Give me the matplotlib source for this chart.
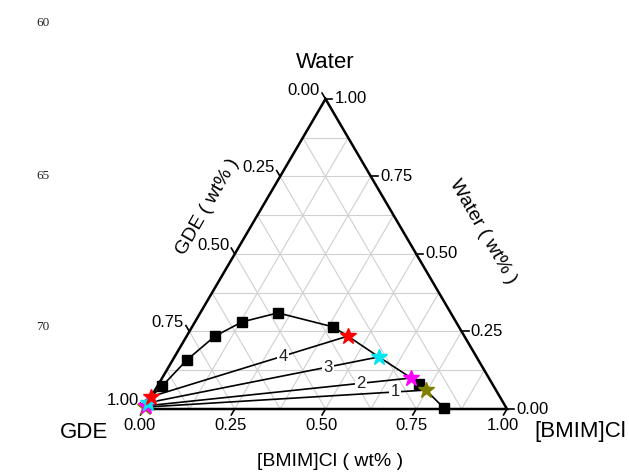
import numpy as np
import matplotlib
matplotlib.use('Agg')
import matplotlib.pyplot as plt

plt.rcParams['font.family'] = ['Liberation Sans', 'DejaVu Sans']

H = np.sqrt(3) / 2

# mass fractions ([BMIM]Cl, water); GDE = 1 - both
curve_cl = [0.000, 0.013, 0.039, 0.078, 0.130, 0.214, 0.388, 0.444, 0.563, 0.686, 0.717, 0.746, 0.825]
curve_w = [0.040, 0.074, 0.158, 0.235, 0.281, 0.310, 0.265, 0.235, 0.168, 0.100, 0.081, 0.061, 0.003]

square_cl = [0.013, 0.039, 0.078, 0.130, 0.214, 0.388, 0.717, 0.825]
square_w = [0.074, 0.158, 0.235, 0.281, 0.310, 0.265, 0.081, 0.003]

tie_labels = ['1', '2', '3', '4']
tie_top_cl = [0.746, 0.686, 0.563, 0.444]
tie_top_w = [0.061, 0.100, 0.168, 0.235]
tie_bot_cl = [0.000, 0.000, 0.000, 0.000]
tie_bot_w = [0.006, 0.010, 0.020, 0.040]
tie_colors = ['#808000', '#ff00ff', '#00e5ee', '#ff0000']
tie_label_pos = [0.89, 0.81, 0.78, 0.67]

tick_values = [0.0, 0.25, 0.5, 0.75, 1.0]
tick_labels = ['0.00', '0.25', '0.50', '0.75', '1.00']
grid_values = np.arange(0.125, 1.0, 0.125)


def tern(cl, w):
    cl = np.asarray(cl, float)
    w = np.asarray(w, float)
    return cl + w / 2, w * H


fig = plt.figure(figsize=(6.29, 4.72), dpi=100)
ax = fig.add_axes([0, 0, 1, 1])
ax.set_xlim(-144 / 363, 485 / 363)
ax.set_ylim(-63 / 358, 409 / 358)
ax.axis('off')

# grid
gc = '#d0d0d0'
for v in grid_values:
    x, y = tern([0, 1 - v], [v, v])
    ax.plot(x, y, color=gc, lw=0.8, zorder=1)
    x, y = tern([v, v], [0, 1 - v])
    ax.plot(x, y, color=gc, lw=0.8, zorder=1)
    x, y = tern([1 - v, 0], [0, 1 - v])
    ax.plot(x, y, color=gc, lw=0.8, zorder=1)

# frame
x, y = tern([0, 1, 0, 0], [0, 0, 1, 0])
ax.plot(x, y, color='black', lw=1.8, zorder=3, solid_joinstyle='miter')

# ticks and tick labels
L = 0.019
for v, lab in zip(tick_values, tick_labels):
    # bottom: [BMIM]Cl
    x, y = tern(v, 0)
    ax.plot([x, x - 0.5 * L], [y, y - H * L], color='black', lw=1.2, zorder=3)
    ax.text(x - 0.012, y - 0.047, lab, ha='center', va='center', fontsize=12)
    # right: water
    x, y = tern(1 - v, v)
    ax.plot([x, x + L], [y, y], color='black', lw=1.2, zorder=3)
    ax.text(x + 0.025, y, lab, ha='left', va='center', fontsize=12)
    # left: GDE
    x, y = tern(0, 1 - v)
    ax.plot([x, x - 0.5 * L], [y, y + H * L], color='black', lw=1.2, zorder=3)
    ax.text(x - 0.015, y + 0.025, lab, ha='right', va='center', fontsize=12)

# binodal curve
x, y = tern(curve_cl, curve_w)
ax.plot(x, y, color='black', lw=1.2, zorder=4)
x, y = tern(square_cl, square_w)
ax.plot(x, y, 's', color='black', ms=7, zorder=5)

# tie lines
for lab, c1, w1, c0, w0, col, t in zip(tie_labels, tie_top_cl, tie_top_w,
                                       tie_bot_cl, tie_bot_w, tie_colors, tie_label_pos):
    x, y = tern([c0, c1], [w0, w1])
    ax.plot(x, y, color='black', lw=1.2, zorder=4)
    ax.plot(x, y, '*', color=col, ms=12, zorder=6)
    ax.text(x[0] + t * (x[1] - x[0]), y[0] + t * (y[1] - y[0]), lab,
            ha='center', va='center', fontsize=12, color='#222222', zorder=5,
            bbox=dict(boxstyle='square,pad=0.08', fc='white', ec='none'))

# axis titles
fig.text(325 / 629, 1 - 62 / 472, 'Water', ha='center', va='center', fontsize=16)
fig.text(84 / 629, 1 - 432 / 472, 'GDE', ha='center', va='center', fontsize=16)
fig.text(580 / 629, 1 - 432 / 472, '[BMIM]Cl', ha='center', va='center', fontsize=16)
fig.text(330 / 629, 1 - 462 / 472, '[BMIM]Cl ( wt% )', ha='center', va='center', fontsize=14)
fig.text(208 / 629, 1 - 207 / 472, 'GDE ( wt% )', ha='center', va='center',
         fontsize=14, rotation=60)
fig.text(483 / 629, 1 - 232 / 472, 'Water ( wt% )', ha='center', va='center',
         fontsize=14, rotation=-60)

# line numbers of the page
for num, ypx in zip(['60', '65', '70'], [23, 176, 327]):
    fig.text(43 / 629, 1 - ypx / 472, num, ha='center', va='center',
             fontsize=9.5, family='Liberation Serif', color='#222222')

fig.savefig('out.png', dpi=100)
